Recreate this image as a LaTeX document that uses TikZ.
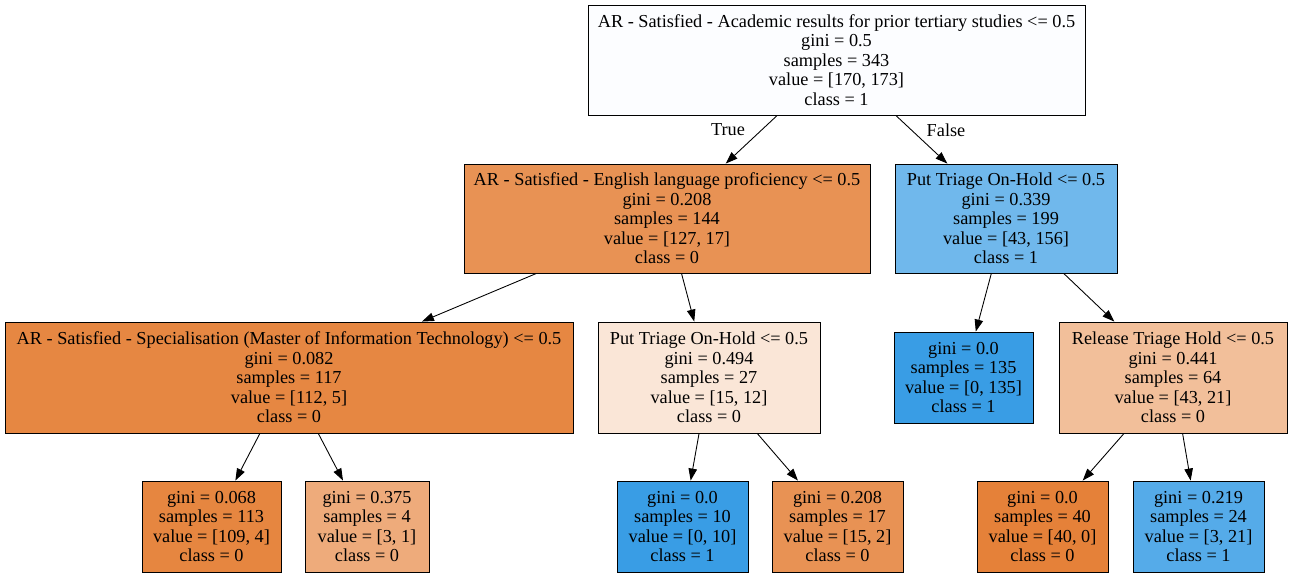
\documentclass[tikz,border=0pt]{standalone}
\usepackage{fontspec}
\setmainfont{Liberation Serif}
\usetikzlibrary{arrows.meta}
\definecolor{rootc}{HTML}{FCFDFF}
\definecolor{oraA}{HTML}{E89254}
\definecolor{bluA}{HTML}{70B8EC}
\definecolor{oraB}{HTML}{E68742}
\definecolor{oraC}{HTML}{FAE6D7}
\definecolor{bluFull}{HTML}{399DE5}
\definecolor{oraD}{HTML}{F2BF9A}
\definecolor{oraE}{HTML}{E68640}
\definecolor{oraF}{HTML}{EEAB7B}
\definecolor{oraFull}{HTML}{E58139}
\definecolor{bluB}{HTML}{55ABE9}
\begin{document}
\begin{tikzpicture}[every node/.style={font=\fontsize{10.4}{11.1}\selectfont},
  split/.style={draw,line width=0.5pt,inner sep=0pt,minimum height=2.2cm,align=center},
  leaf/.style={draw,line width=0.5pt,inner sep=0pt,minimum height=1.82cm,minimum width=2.62cm,align=center},
  edge/.style={-{Triangle[length=0.24cm,width=0.17cm]},line width=0.5pt}]
\useasboundingbox (0,0) rectangle (25.84,11.54);
% splits
\node[split,fill=rootc,minimum width=9.94cm] (root) at (16.73,10.34) {AR - Satisfied - Academic results for prior tertiary studies <= 0.5\\ gini = 0.5\\ samples = 343\\ value = [170, 173]\\ class = 1};
\node[split,fill=oraA,minimum width=8.12cm,minimum height=2.18cm] (eng) at (13.34,7.17) {AR - Satisfied - English language proficiency <= 0.5\\ gini = 0.208\\ samples = 144\\ value = [127, 17]\\ class = 0};
\node[split,fill=bluA,minimum width=4.44cm,minimum height=2.18cm] (hold) at (20.12,7.17) {Put Triage On-Hold <= 0.5\\ gini = 0.339\\ samples = 199\\ value = [43, 156]\\ class = 1};
\node[split,fill=oraB,minimum width=11.36cm,minimum height=2.22cm] (spec) at (5.78,3.99) {AR - Satisfied - Specialisation (Master of Information Technology) <= 0.5\\ gini = 0.082\\ samples = 117\\ value = [112, 5]\\ class = 0};
\node[split,fill=oraC,minimum width=4.44cm,minimum height=2.22cm] (holdb) at (14.18,3.99) {Put Triage On-Hold <= 0.5\\ gini = 0.494\\ samples = 27\\ value = [15, 12]\\ class = 0};
\node[leaf,fill=bluFull,minimum width=2.78cm] (lfA) at (19.27,3.99) {gini = 0.0\\ samples = 135\\ value = [0, 135]\\ class = 1};
\node[split,fill=oraD,minimum width=4.56cm,minimum height=2.22cm] (rel) at (23.46,3.99) {Release Triage Hold <= 0.5\\ gini = 0.441\\ samples = 64\\ value = [43, 21]\\ class = 0};
% leaves
\node[leaf,fill=oraE,minimum width=2.78cm] (lf1) at (4.23,1.01) {gini = 0.068\\ samples = 113\\ value = [109, 4]\\ class = 0};
\node[leaf,fill=oraF,minimum width=2.48cm] (lf2) at (7.34,1.01) {gini = 0.375\\ samples = 4\\ value = [3, 1]\\ class = 0};
\node[leaf,fill=bluFull] (lf3) at (13.65,1.01) {gini = 0.0\\ samples = 10\\ value = [0, 10]\\ class = 1};
\node[leaf,fill=oraA] (lf4) at (16.75,1.01) {gini = 0.208\\ samples = 17\\ value = [15, 2]\\ class = 0};
\node[leaf,fill=oraFull] (lf5) at (20.85,1.01) {gini = 0.0\\ samples = 40\\ value = [40, 0]\\ class = 0};
\node[leaf,fill=bluB] (lf6) at (23.97,1.01) {gini = 0.219\\ samples = 24\\ value = [3, 21]\\ class = 1};
% edges
\draw[edge] (root)--(eng); \draw[edge] (root)--(hold);
\node (tr) at (14.56,8.94) {True}; \node (fa) at (18.92,8.94) {False};
\draw[edge] (eng)--(spec); \draw[edge] (eng)--(holdb);
\draw[edge] (hold)--(lfA); \draw[edge] (hold)--(rel);
\draw[edge] (spec)--(lf1); \draw[edge] (spec)--(lf2);
\draw[edge] (holdb)--(lf3); \draw[edge] (holdb)--(lf4);
\draw[edge] (rel)--(lf5); \draw[edge] (rel)--(lf6);
\end{tikzpicture}
\end{document}
